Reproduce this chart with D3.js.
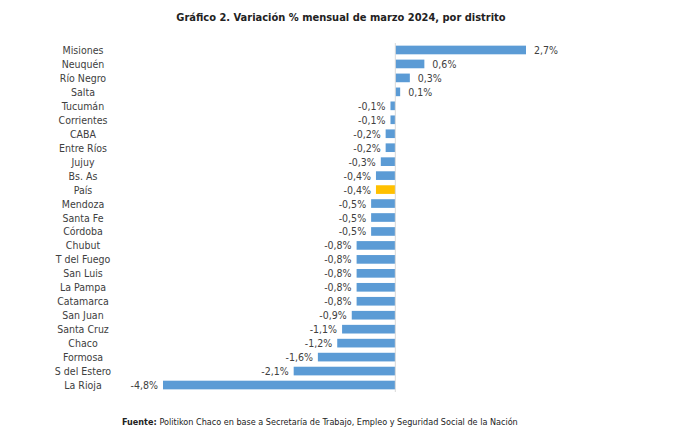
<!DOCTYPE html>
<html><head><meta charset="utf-8">
<script src="https://cdn.jsdelivr.net/npm/d3@7"></script>
<style>body{margin:0;background:#fff}text{font-family:"Liberation Sans Narrow","DejaVu Sans Condensed",sans-serif}</style>
</head><body><div id="chart"></div>
<script>
var distritos = ["Misiones","Neuquén","Río Negro","Salta","Tucumán","Corrientes","CABA","Entre Ríos","Jujuy","Bs. As","País","Mendoza","Santa Fe","Córdoba","Chubut","T del Fuego","San Luis","La Pampa","Catamarca","San Juan","Santa Cruz","Chaco","Formosa","S del Estero","La Rioja"];
var variacion = [2.7,0.6,0.3,0.1,-0.1,-0.1,-0.2,-0.2,-0.3,-0.4,-0.4,-0.5,-0.5,-0.5,-0.8,-0.8,-0.8,-0.8,-0.8,-0.9,-1.1,-1.2,-1.6,-2.1,-4.8];

var svg = d3.select("#chart").append("svg").attr("width", 682).attr("height", 444);

var x = d3.scaleLinear().domain([-4.8, 2.7]).range([163, 526]);
var y = d3.scaleBand().domain(distritos).range([43, 392]).paddingInner(0.38).paddingOuter(0.19);

svg.append("text").attr("x", 341).attr("y", 21).attr("text-anchor", "middle")
  .attr("font-size", 11).attr("font-weight", "bold").attr("fill", "#222")
  .text("Gráfico 2. Variación % mensual de marzo 2024, por distrito");

var fmt = function(d) { return String(d).replace(".", ",") + "%"; };

svg.selectAll(".bar").data(variacion).enter().append("rect")
  .attr("x", function(d) { return x(Math.min(0, d)); })
  .attr("y", function(d, i) { return y(distritos[i]); })
  .attr("width", function(d) { return Math.abs(x(d) - x(0)); })
  .attr("height", y.bandwidth())
  .attr("fill", function(d, i) { return distritos[i] == "País" ? "#ffc000" : "#5b9bd5"; });

svg.append("line").attr("x1", x(0)).attr("x2", x(0)).attr("y1", 43).attr("y2", 392)
  .attr("stroke", "#d9d9d9");

svg.selectAll(".cat").data(distritos).enter().append("text")
  .attr("x", 83).attr("y", function(d) { return y(d) + y.bandwidth() / 2 + 4; })
  .attr("text-anchor", "middle").attr("font-size", 10.5).attr("fill", "#404040")
  .text(function(d) { return d; });

svg.selectAll(".val").data(variacion).enter().append("text")
  .attr("x", function(d) { return d >= 0 ? x(d) + 8 : x(d) - 5; })
  .attr("y", function(d, i) { return y(distritos[i]) + y.bandwidth() / 2 + 4; })
  .attr("text-anchor", function(d) { return d >= 0 ? "start" : "end"; })
  .attr("font-size", 10.5).attr("fill", "#404040")
  .text(fmt);

var f = svg.append("text").attr("x", 122).attr("y", 425).attr("font-size", 9).attr("fill", "#222");
f.append("tspan").attr("font-weight", "bold").text("Fuente: ");
f.append("tspan").text("Politikon Chaco en base a Secretaría de Trabajo, Empleo y Seguridad Social de la Nación");
</script></body></html>
